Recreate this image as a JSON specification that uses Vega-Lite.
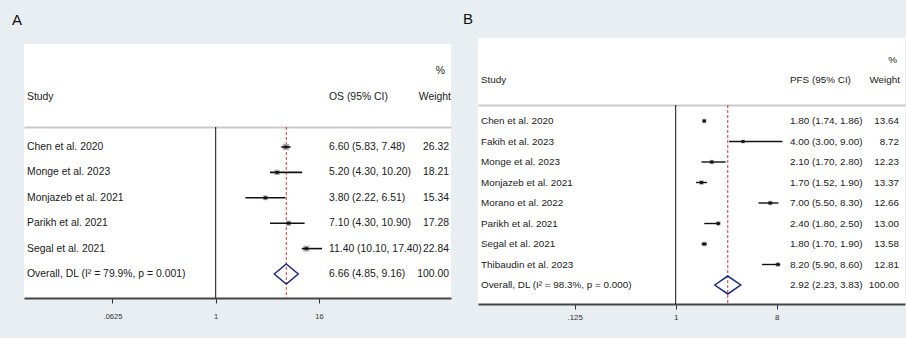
{
  "$schema": "https://vega.github.io/schema/vega-lite/v6.json",
  "background": "#e8eef1",
  "padding": {"left": 12, "top": 12, "right": 4, "bottom": 22},
  "spacing": 12,
  "config": {
    "view": {"stroke": null},
    "font": "Liberation Sans, Arial, sans-serif"
  },
  "datasets": {
    "os": [
      {"study": "Chen et al. 2020", "ci": "6.60 (5.83, 7.48)", "weight": "26.32", "est": 6.60, "lo": 5.83, "hi": 7.48, "w": 26.32, "kind": "study"},
      {"study": "Monge et al. 2023", "ci": "5.20 (4.30, 10.20)", "weight": "18.21", "est": 5.20, "lo": 4.30, "hi": 10.20, "w": 18.21, "kind": "study"},
      {"study": "Monjazeb et al. 2021", "ci": "3.80 (2.22, 6.51)", "weight": "15.34", "est": 3.80, "lo": 2.22, "hi": 6.51, "w": 15.34, "kind": "study"},
      {"study": "Parikh et al. 2021", "ci": "7.10 (4.30, 10.90)", "weight": "17.28", "est": 7.10, "lo": 4.30, "hi": 10.90, "w": 17.28, "kind": "study"},
      {"study": "Segal et al. 2021", "ci": "11.40 (10.10, 17.40)", "weight": "22.84", "est": 11.40, "lo": 10.10, "hi": 17.40, "w": 22.84, "kind": "study"},
      {"study": "Overall, DL (I² = 79.9%, p = 0.001)", "ci": "6.66 (4.85, 9.16)", "weight": "100.00", "est": 6.66, "lo": 4.85, "hi": 9.16, "w": 100, "kind": "overall"}
    ],
    "pfs": [
      {"study": "Chen et al. 2020", "ci": "1.80 (1.74, 1.86)", "weight": "13.64", "est": 1.80, "lo": 1.74, "hi": 1.86, "w": 13.64, "kind": "study"},
      {"study": "Fakih et al. 2023", "ci": "4.00 (3.00, 9.00)", "weight": "8.72", "est": 4.00, "lo": 3.00, "hi": 9.00, "w": 8.72, "kind": "study"},
      {"study": "Monge et al. 2023", "ci": "2.10 (1.70, 2.80)", "weight": "12.23", "est": 2.10, "lo": 1.70, "hi": 2.80, "w": 12.23, "kind": "study"},
      {"study": "Monjazeb et al. 2021", "ci": "1.70 (1.52, 1.90)", "weight": "13.37", "est": 1.70, "lo": 1.52, "hi": 1.90, "w": 13.37, "kind": "study"},
      {"study": "Morano et al. 2022", "ci": "7.00 (5.50, 8.30)", "weight": "12.66", "est": 7.00, "lo": 5.50, "hi": 8.30, "w": 12.66, "kind": "study"},
      {"study": "Parikh et al. 2021", "ci": "2.40 (1.80, 2.50)", "weight": "13.00", "est": 2.40, "lo": 1.80, "hi": 2.50, "w": 13.00, "kind": "study"},
      {"study": "Segal et al. 2021", "ci": "1.80 (1.70, 1.90)", "weight": "13.58", "est": 1.80, "lo": 1.70, "hi": 1.90, "w": 13.58, "kind": "study"},
      {"study": "Thibaudin et al. 2023", "ci": "8.20 (5.90, 8.60)", "weight": "12.81", "est": 8.20, "lo": 5.90, "hi": 8.60, "w": 12.81, "kind": "study"},
      {"study": "Overall, DL (I² = 98.3%, p = 0.000)", "ci": "2.92 (2.23, 3.83)", "weight": "100.00", "est": 2.92, "lo": 2.23, "hi": 3.83, "w": 100, "kind": "overall"}
    ],
    "hA": [
      {"col": "study", "line": "head", "txt": "Study"},
      {"col": "ci", "line": "head", "txt": "OS (95% CI)"},
      {"col": "weight", "line": "head", "txt": "Weight"},
      {"col": "pct", "line": "pct", "txt": "%"}
    ],
    "hB": [
      {"col": "study", "line": "head", "txt": "Study"},
      {"col": "ci", "line": "head", "txt": "PFS (95% CI)"},
      {"col": "weight", "line": "head", "txt": "Weight"},
      {"col": "pct", "line": "pct", "txt": "%"}
    ]
  },
  "hconcat": [
    {
      "title": {"text": "A", "anchor": "start", "dx": -12, "offset": -2, "baseline": "alphabetic", "fontSize": 15, "fontWeight": "normal", "color": "#111"},
      "spacing": 0,
      "bounds": "flush",
      "vconcat": [
        {
          "width": 427, "height": 6,
          "data": {"values": []},
          "mark": {"type": "point"},
          "encoding": {}
        },
        {
          "width": 427, "height": 83,
          "view": {"fill": "white", "stroke": null},
          "data": {"name": "hA"},
          "encoding": {"y": {"field": "line", "type": "nominal", "scale": {"type": "point", "domain": ["pct", "head"], "range": [27, 53], "padding": 0}, "axis": null}},
          "layer": [
            {
              "transform": [{"filter": {"field": "col", "oneOf": ["study", "ci"]}}],
              "mark": {"type": "text", "align": "left", "baseline": "middle", "fontSize": 10.4, "color": "#1a1a1a"},
              "encoding": {
                "x": {"field": "col", "type": "nominal", "scale": {"type": "point", "domain": ["study", "ci"], "range": [3, 305], "padding": 0}, "axis": null},
                "text": {"field": "txt"}
              }
            },
            {
              "transform": [{"filter": {"field": "col", "oneOf": ["pct", "weight"]}}],
              "mark": {"type": "text", "align": "right", "baseline": "middle", "fontSize": 10.4, "color": "#1a1a1a"},
              "encoding": {
                "x": {"field": "col", "type": "nominal", "scale": {"type": "point", "domain": ["pct", "weight"], "range": [421, 427], "padding": 0}, "axis": null},
                "text": {"field": "txt"}
              }
            }
          ],
          "resolve": {"scale": {"x": "independent"}}
        },
        {
          "width": 427, "height": 171,
          "view": {"fill": "white", "stroke": null},
          "data": {"name": "os"},
          "layer": [
            {
              "transform": [{"fold": ["study", "ci"], "as": ["col", "txt"]}],
              "mark": {"type": "text", "align": "left", "baseline": "middle", "fontSize": 10.4, "color": "#1a1a1a"},
              "encoding": {
                "x": {"field": "col", "type": "nominal", "scale": {"type": "point", "domain": ["study", "ci"], "range": [3, 305], "padding": 0}, "axis": null},
                "y": {"field": "study", "type": "nominal", "sort": null, "scale": {"type": "point", "range": [20, 147], "padding": 0}, "axis": null},
                "text": {"field": "txt"}
              }
            },
            {
              "mark": {"type": "text", "align": "right", "baseline": "middle", "fontSize": 10.4, "color": "#1a1a1a"},
              "encoding": {
                "x": {"datum": "weight", "type": "nominal", "scale": {"type": "point", "domain": ["weight"], "range": [425, 425], "padding": 0}, "axis": null},
                "y": {"field": "study", "type": "nominal", "sort": null},
                "text": {"field": "weight"}
              }
            },
            {
              "data": {"values": [{"ref": 1}]},
              "mark": {"type": "rule", "color": "#111", "strokeWidth": 1},
              "encoding": {
                "x": {"field": "ref", "type": "quantitative", "scale": {"type": "log", "base": 2, "domain": [0.0058, 556.5], "nice": false},
                  "axis": {"orient": "top", "labels": false, "ticks": false, "grid": false, "title": null, "domainColor": "#c9c9c9", "domainWidth": 2}}
              }
            },
            {
              "layer": [
                {
                  "transform": [{"filter": "datum.kind == 'overall'"}],
                  "mark": {"type": "rule", "color": "#cc3b3b", "strokeWidth": 1, "strokeDash": [3, 2]},
                  "encoding": {
                    "x": {"field": "est", "type": "quantitative", "scale": {"type": "log", "base": 2, "domain": [0.0058, 556.5], "nice": false},
                      "axis": {"orient": "bottom", "values": [0.0625, 1, 16], "labelExpr": "datum.value < 1 ? replace(datum.value + '', '0.', '.') : datum.value + ''", "grid": false, "title": null, "domainColor": "#444", "domainWidth": 2, "tickColor": "#333", "tickSize": 5, "labelFontSize": 7.5, "labelColor": "#333", "labelPadding": 9, "labelFlush": false, "labelOverlap": false}}
                  }
                },
                {
                  "transform": [{"filter": "datum.kind == 'study'"}],
                  "mark": {"type": "point", "shape": "square", "filled": true, "opacity": 1, "color": "#a9a9a9"},
                  "encoding": {
                    "x": {"field": "est", "type": "quantitative"},
                    "y": {"field": "study", "type": "nominal", "sort": null},
                    "size": {"field": "w", "type": "quantitative", "scale": {"domain": [0, 30], "range": [0, 45]}, "legend": null}
                  }
                },
                {
                  "transform": [{"filter": "datum.kind == 'study'"}],
                  "mark": {"type": "rule", "color": "#111", "strokeWidth": 1.6},
                  "encoding": {
                    "x": {"field": "lo", "type": "quantitative"},
                    "x2": {"field": "hi"},
                    "y": {"field": "study", "type": "nominal", "sort": null}
                  }
                },
                {
                  "transform": [{"filter": "datum.kind == 'study'"}],
                  "mark": {"type": "point", "shape": "square", "filled": true, "opacity": 1, "color": "#111", "size": 8},
                  "encoding": {
                    "x": {"field": "est", "type": "quantitative"},
                    "y": {"field": "study", "type": "nominal", "sort": null}
                  }
                },
                {
                  "transform": [{"filter": "datum.kind == 'overall'"}],
                  "mark": {"type": "point", "shape": "M-1,0L0,-0.83L1,0L0,0.83Z", "filled": false, "opacity": 1, "color": "#1f2a80", "strokeWidth": 1.5, "size": 576},
                  "encoding": {
                    "x": {"field": "est", "type": "quantitative"},
                    "y": {"field": "study", "type": "nominal", "sort": null}
                  }
                }
              ]
            }
          ],
          "resolve": {"scale": {"x": "independent"}, "axis": {"x": "independent"}}
        }
      ]
    },
    {
      "title": {"text": "B", "anchor": "start", "dx": -15, "offset": -1, "baseline": "alphabetic", "fontSize": 15, "fontWeight": "normal", "color": "#111"},
      "spacing": 0,
      "bounds": "flush",
      "vconcat": [
        {
          "width": 427, "height": 67,
          "view": {"fill": "white", "stroke": null},
          "data": {"name": "hB"},
          "encoding": {"y": {"field": "line", "type": "nominal", "scale": {"type": "point", "domain": ["pct", "head"], "range": [22, 42], "padding": 0}, "axis": null}},
          "layer": [
            {
              "transform": [{"filter": {"field": "col", "oneOf": ["study", "ci"]}}],
              "mark": {"type": "text", "align": "left", "baseline": "middle", "fontSize": 9.9, "color": "#1a1a1a"},
              "encoding": {
                "x": {"field": "col", "type": "nominal", "scale": {"type": "point", "domain": ["study", "ci"], "range": [3, 312], "padding": 0}, "axis": null},
                "text": {"field": "txt"}
              }
            },
            {
              "transform": [{"filter": {"field": "col", "oneOf": ["pct", "weight"]}}],
              "mark": {"type": "text", "align": "right", "baseline": "middle", "fontSize": 9.9, "color": "#1a1a1a"},
              "encoding": {
                "x": {"field": "col", "type": "nominal", "scale": {"type": "point", "domain": ["pct", "weight"], "range": [419, 422], "padding": 0}, "axis": null},
                "text": {"field": "txt"}
              }
            }
          ],
          "resolve": {"scale": {"x": "independent"}}
        },
        {
          "width": 427, "height": 199,
          "view": {"fill": "white", "stroke": null},
          "data": {"name": "pfs"},
          "layer": [
            {
              "transform": [{"fold": ["study", "ci"], "as": ["col", "txt"]}],
              "mark": {"type": "text", "align": "left", "baseline": "middle", "fontSize": 9.9, "color": "#1a1a1a"},
              "encoding": {
                "x": {"field": "col", "type": "nominal", "scale": {"type": "point", "domain": ["study", "ci"], "range": [3, 312], "padding": 0}, "axis": null},
                "y": {"field": "study", "type": "nominal", "sort": null, "scale": {"type": "point", "range": [16, 180], "padding": 0}, "axis": null},
                "text": {"field": "txt"}
              }
            },
            {
              "mark": {"type": "text", "align": "right", "baseline": "middle", "fontSize": 9.9, "color": "#1a1a1a"},
              "encoding": {
                "x": {"datum": "weight", "type": "nominal", "scale": {"type": "point", "domain": ["weight"], "range": [421, 421], "padding": 0}, "axis": null},
                "y": {"field": "study", "type": "nominal", "sort": null},
                "text": {"field": "weight"}
              }
            },
            {
              "data": {"values": [{"ref": 1}]},
              "mark": {"type": "rule", "color": "#111", "strokeWidth": 1},
              "encoding": {
                "x": {"field": "ref", "type": "quantitative", "scale": {"type": "log", "base": 2, "domain": [0.01708, 112.2], "nice": false},
                  "axis": {"orient": "top", "labels": false, "ticks": false, "grid": false, "title": null, "domainColor": "#c9c9c9", "domainWidth": 2}}
              }
            },
            {
              "layer": [
                {
                  "transform": [{"filter": "datum.kind == 'overall'"}],
                  "mark": {"type": "rule", "color": "#cc3b3b", "strokeWidth": 1, "strokeDash": [3, 2]},
                  "encoding": {
                    "x": {"field": "est", "type": "quantitative", "scale": {"type": "log", "base": 2, "domain": [0.01708, 112.2], "nice": false},
                      "axis": {"orient": "bottom", "values": [0.125, 1, 8], "labelExpr": "datum.value < 1 ? replace(datum.value + '', '0.', '.') : datum.value + ''", "grid": false, "title": null, "domainColor": "#444", "domainWidth": 2, "tickColor": "#333", "tickSize": 5, "labelFontSize": 8, "labelColor": "#333", "labelPadding": 4, "labelFlush": false, "labelOverlap": false}}
                  }
                },
                {
                  "transform": [{"filter": "datum.kind == 'study'"}],
                  "mark": {"type": "point", "shape": "square", "filled": true, "opacity": 1, "color": "#a9a9a9"},
                  "encoding": {
                    "x": {"field": "est", "type": "quantitative"},
                    "y": {"field": "study", "type": "nominal", "sort": null},
                    "size": {"field": "w", "type": "quantitative", "scale": {"domain": [0, 15], "range": [0, 28]}, "legend": null}
                  }
                },
                {
                  "transform": [{"filter": "datum.kind == 'study'"}],
                  "mark": {"type": "rule", "color": "#111", "strokeWidth": 1.4},
                  "encoding": {
                    "x": {"field": "lo", "type": "quantitative"},
                    "x2": {"field": "hi"},
                    "y": {"field": "study", "type": "nominal", "sort": null}
                  }
                },
                {
                  "transform": [{"filter": "datum.kind == 'study'"}],
                  "mark": {"type": "point", "shape": "square", "filled": true, "opacity": 1, "color": "#111", "size": 8},
                  "encoding": {
                    "x": {"field": "est", "type": "quantitative"},
                    "y": {"field": "study", "type": "nominal", "sort": null}
                  }
                },
                {
                  "transform": [{"filter": "datum.kind == 'overall'"}],
                  "mark": {"type": "point", "shape": "M-1,0L0,-0.69L1,0L0,0.69Z", "filled": false, "opacity": 1, "color": "#1f2a80", "strokeWidth": 1.5, "size": 676},
                  "encoding": {
                    "x": {"field": "est", "type": "quantitative"},
                    "y": {"field": "study", "type": "nominal", "sort": null}
                  }
                }
              ]
            }
          ],
          "resolve": {"scale": {"x": "independent"}, "axis": {"x": "independent"}}
        }
      ]
    }
  ]
}
